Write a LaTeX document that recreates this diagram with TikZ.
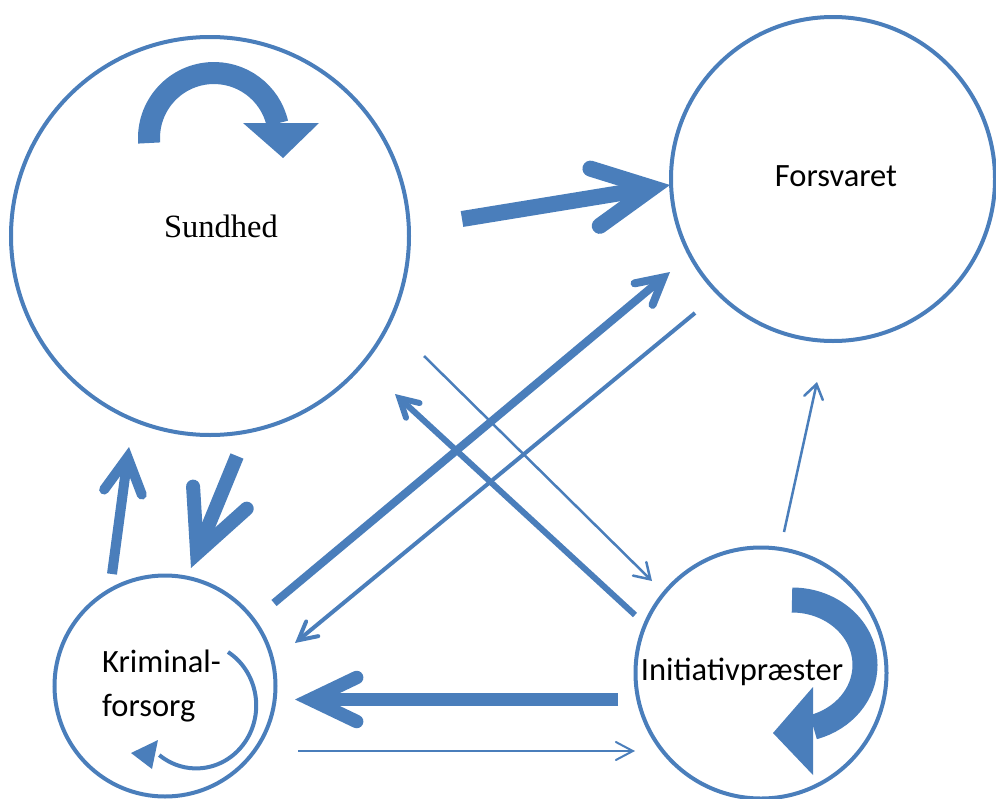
\documentclass[tikz,border=0pt]{standalone}
\usepackage{fontspec}
\setmainfont{Liberation Serif}
\newfontfamily\calibri{Carlito}
\usetikzlibrary{arrows.meta}
\definecolor{ablue}{RGB}{74,126,187}
\begin{document}
\begin{tikzpicture}[x=1pt,y=-1pt,
  ring/.style={circle,draw=ablue,line width=4pt,inner sep=0pt,minimum size=#1},
  conn/.style={draw=ablue,line width=#1},
  barbtip/.style n args={2}{-{Straight Barb[length=#1,width=#2,line cap=round,line join=miter]}},
  lbl/.style={font=\calibri\fontsize{32.5}{44}\selectfont,inner sep=0pt},
]
\useasboundingbox (0,0) rectangle (996,798);

% circles
\node[ring=398pt] (S) at (210,236) {};
\node[ring=324pt] (F) at (833,179) {};
\node[ring=221pt] (K) at (165,686) {};
\node[ring=251pt] (I) at (761,673) {};

% labels
\node[font=\fontsize{32.5}{37}\selectfont,inner sep=0pt] (St) at (221,226) {Sundhed};
\node[lbl] (Ft) at (836,176) {Forsvaret};
\node[lbl,align=left,anchor=west] (Kt) at (102,686) {Kriminal-\\forsorg};
\node[lbl] (It) at (742,672) {Initiativpræster};

% connector end points
\coordinate (a1s) at (462,219); \coordinate (a1e) at (670,185);
\coordinate (a2s) at (274,603); \coordinate (a2e) at (670,272);
\coordinate (a3s) at (695,313); \coordinate (a3e) at (295,643);
\coordinate (a4s) at (635,615); \coordinate (a4e) at (395,394);
\coordinate (a5s) at (424,356); \coordinate (a5e) at (652,581);
\coordinate (a6s) at (784,532); \coordinate (a6e) at (817,382);
\coordinate (a7s) at (112,574); \coordinate (a7e) at (129,447);
\coordinate (a8s) at (237,456); \coordinate (a8e) at (191,568);
\coordinate (a9s) at (618,699.5); \coordinate (a9e) at (295,699.5);
\coordinate (a10s) at (298,751); \coordinate (a10e) at (635,751);

% connectors
\draw[conn=16pt, barbtip={58pt}{58pt}] (a1s) -- (a1e);
\draw[conn=8pt, barbtip={26pt}{28pt}] (a2s) -- (a2e);
\draw[conn=4pt, barbtip={18pt}{19pt}] (a3s) -- (a3e);
\draw[conn=6pt, barbtip={18pt}{20pt}] (a4s) -- (a4e);
\draw[conn=2.5pt, barbtip={15pt}{19pt}] (a5s) -- (a5e);
\draw[conn=2.5pt, barbtip={14pt}{19pt}] (a6s) -- (a6e);
\draw[conn=10pt, barbtip={35pt}{38pt}] (a7s) -- (a7e);
\draw[conn=14pt, barbtip={60pt}{58pt}] (a8s) -- (a8e);
\draw[conn=13.5pt, barbtip={46pt}{44pt}] (a9s) -- (a9e);
\draw[conn=2pt, barbtip={17pt}{18pt}] (a10s) -- (a10e);

% self-loop arrows
\draw[ablue, line width=22pt] (149.2,143) arc[start angle=175.6, end angle=347, radius=65];
\fill[ablue] (243,123) -- (319,123) -- (283,158) -- cycle;

\draw[ablue, line width=25pt] (792,600) arc[start angle=-90, end angle=73, x radius=73, y radius=65];
\fill[ablue] (813,687) -- (813,775) -- (773,733) -- cycle;

\draw[ablue, line width=4pt] (228,652) arc[start angle=-58, end angle=128, x radius=60, y radius=63];
\fill[ablue] (131,753) -- (158,740) -- (152,769) -- cycle;
\end{tikzpicture}
\end{document}
